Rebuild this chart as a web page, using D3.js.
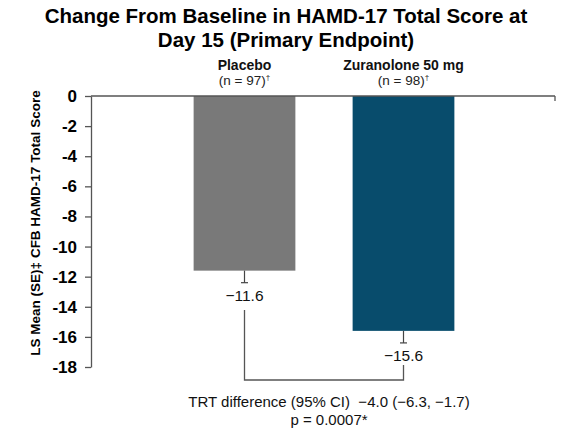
<!DOCTYPE html>
<html>
<head>
<meta charset="utf-8">
<script src="https://cdn.jsdelivr.net/npm/d3@7"></script>
<style>
  html, body { margin: 0; padding: 0; background: #ffffff; }
  svg { display: block; font-family: "Liberation Sans", Arial, sans-serif; }
</style>
</head>
<body>
<svg id="chart" width="570" height="433"></svg>
<script>
// ---- data ----
const categories = ["Placebo", "Zuranolone 50 mg"];
const nLabels = ["(n = 97)", "(n = 98)"];
const lsMeans = [-11.6, -15.6];
const seValues = [0.8, 0.8];
const valueLabels = ["\u221211.6", "\u221215.6"];
const barColors = ["#797979", "#084c6c"];
const yTicks = [0, -2, -4, -6, -8, -10, -12, -14, -16, -18];
const titleLines = ["Change From Baseline in HAMD-17 Total Score at", "Day 15 (Primary Endpoint)"];
const yTitle = "LS Mean (SE)\u2021 CFB HAMD-17 Total Score";
const diffLines = ["TRT difference (95% CI)  \u22124.0 (\u22126.3, \u22121.7)", "p = 0.0007*"];

// ---- drawing ----
const svg = d3.select("#chart");
const axisColor = "#555555";

const y = d3.scaleLinear().domain([0, -18]).range([96, 367]);
const x = d3.scaleBand().domain(categories).range([165, 483])
  .paddingInner(0.36).paddingOuter(0.18);
const axisX = 91, axisRight = 555;

// title
svg.append("text")
  .attr("text-anchor", "middle")
  .style("font-weight", "bold").style("font-size", "20.5px").style("fill", "#000")
  .selectAll("tspan").data(titleLines).join("tspan")
  .attr("x", 286).attr("y", (d, i) => 23 + i * 24).text(d => d);

// y axis
const yAxis = d3.axisLeft(y).tickValues(yTicks).tickSize(6).tickSizeOuter(0)
  .tickPadding(8).tickFormat(d => String(d));
const gy = svg.append("g").attr("transform", `translate(${axisX},0)`).call(yAxis);
gy.attr("font-size", null).attr("font-family", null);
gy.select(".domain").attr("stroke", axisColor).attr("stroke-width", 1.3);
gy.selectAll(".tick line").attr("stroke", axisColor).attr("stroke-width", 1.3);
gy.selectAll(".tick text")
  .style("font-size", "17px").style("font-weight", "bold").attr("fill", "#000");

// y title
svg.append("text")
  .attr("transform", `translate(40,223) rotate(-90)`)
  .attr("text-anchor", "middle")
  .style("font-size", "13.5px").style("font-weight", "bold").style("fill", "#000")
  .text(yTitle);

// bars
svg.selectAll("rect.bar").data(categories).join("rect")
  .attr("class", "bar")
  .attr("x", d => x(d))
  .attr("width", x.bandwidth())
  .attr("y", y(0))
  .attr("height", (d, i) => y(lsMeans[i]) - y(0))
  .attr("fill", (d, i) => barColors[i]);

// top x axis line (value 0)
svg.append("line")
  .attr("x1", axisX).attr("x2", axisRight)
  .attr("y1", y(0)).attr("y2", y(0))
  .attr("stroke", axisColor).attr("stroke-width", 1.3);
svg.append("line")
  .attr("x1", axisRight).attr("x2", axisRight)
  .attr("y1", y(0)).attr("y2", y(0) + 5)
  .attr("stroke", axisColor).attr("stroke-width", 1.3);

// error bars
const cx = d => x(d) + x.bandwidth() / 2;
const eg = svg.append("g").attr("stroke", "#444").attr("stroke-width", 1.2);
categories.forEach((c, i) => {
  eg.append("line").attr("x1", cx(c)).attr("x2", cx(c))
    .attr("y1", y(lsMeans[i])).attr("y2", y(lsMeans[i] - seValues[i]));
  eg.append("line").attr("x1", cx(c) - 3.5).attr("x2", cx(c) + 3.5)
    .attr("y1", y(lsMeans[i] - seValues[i])).attr("y2", y(lsMeans[i] - seValues[i]));
});

// value labels
svg.selectAll("text.val").data(categories).join("text")
  .attr("class", "val")
  .attr("x", d => cx(d))
  .attr("y", (d, i) => y(lsMeans[i] - seValues[i]) + 18)
  .attr("text-anchor", "middle")
  .style("font-size", "15.5px").style("fill", "#111")
  .text((d, i) => valueLabels[i]);

// category labels
svg.selectAll("text.cat").data(categories).join("text")
  .attr("class", "cat")
  .attr("x", d => cx(d)).attr("y", 70)
  .attr("text-anchor", "middle")
  .style("font-size", "14px").style("font-weight", "bold").style("fill", "#111")
  .text(d => d);
const nl = svg.selectAll("text.n").data(categories).join("text")
  .attr("class", "n")
  .attr("x", d => cx(d)).attr("y", 85)
  .attr("text-anchor", "middle")
  .style("font-size", "13.5px").style("fill", "#222");
nl.append("tspan").text((d, i) => nLabels[i]);
nl.append("tspan").attr("dy", -5).style("font-size", "8px").text("\u2020");

// bracket
const c0 = cx(categories[0]), c1 = cx(categories[1]);
const bracketY = 380;
svg.append("path")
  .attr("d", `M${c0},310V${bracketY}H${c1}V365`)
  .attr("fill", "none").attr("stroke", axisColor).attr("stroke-width", 1.3);

// difference text
svg.append("text")
  .attr("text-anchor", "middle")
  .attr("xml:space", "preserve")
  .style("white-space", "pre")
  .style("font-size", "15px").style("fill", "#111")
  .selectAll("tspan").data(diffLines).join("tspan")
  .attr("x", 329).attr("y", (d, i) => 407 + i * 18).text(d => d);
</script>
</body>
</html>
